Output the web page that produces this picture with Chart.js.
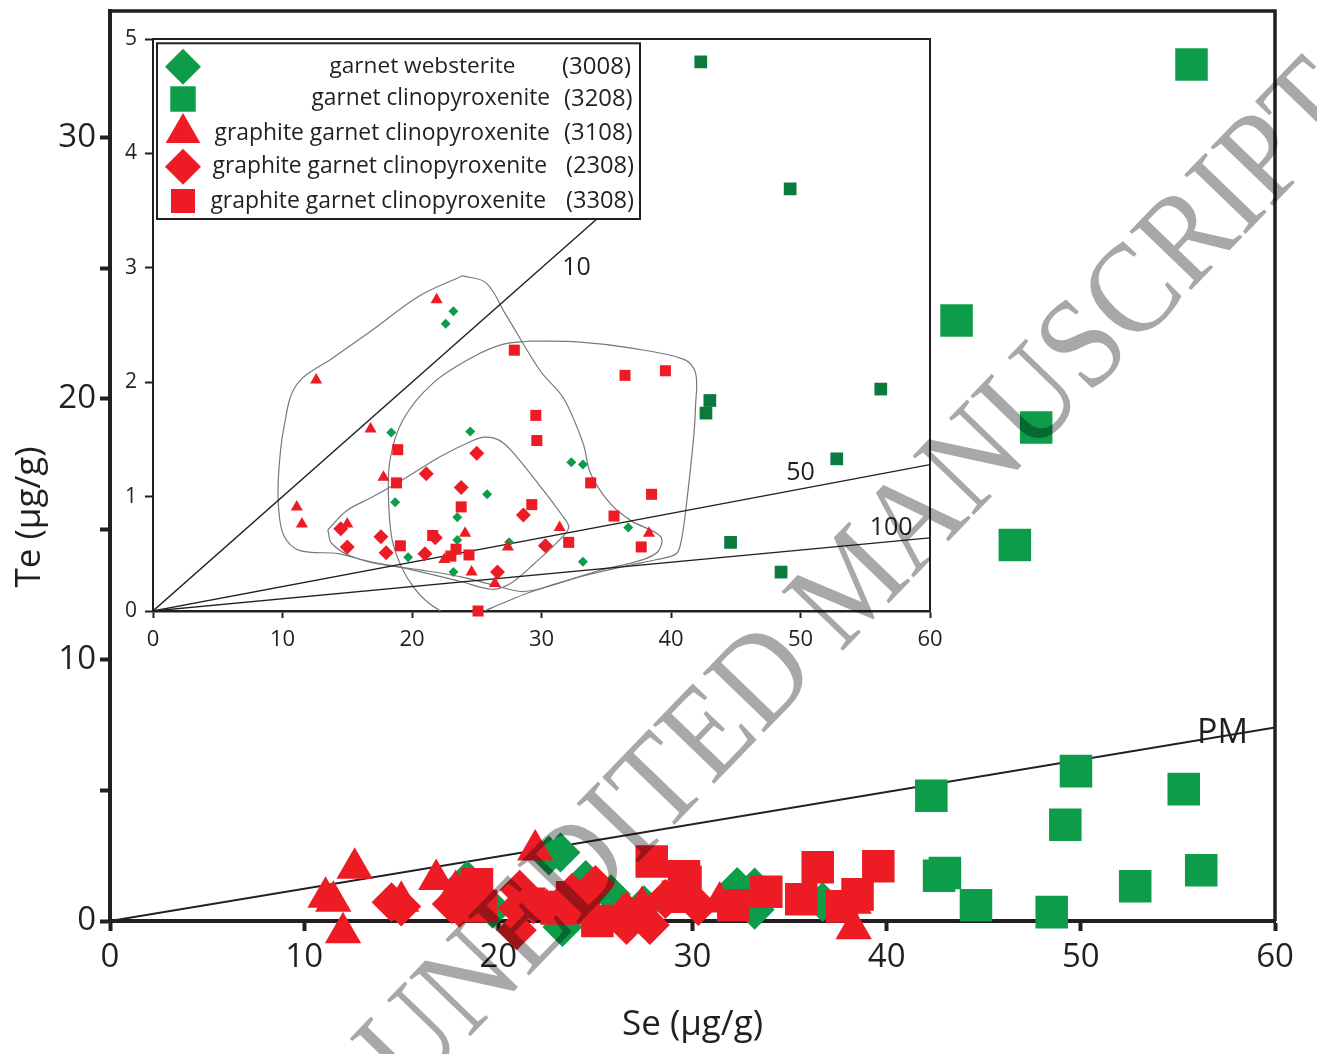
<!DOCTYPE html>
<html lang="en">
<head>
  <meta charset="UTF-8" />
  <title>Te vs Se</title>
  <script src="https://cdn.jsdelivr.net/npm/chart.js@4.4.1/dist/chart.umd.min.js"></script>
  <style>
    html, body { margin: 0; padding: 0; background: #fff; }
    #wrap { position: relative; width: 1317px; height: 1054px; overflow: hidden; }
    #wrap canvas { position: absolute; }
    #mainChart { left: 0; top: -12px; }
    #insetChart { left: 112px; top: 22px; }
    #stamp { left: 0; top: 0; mix-blend-mode: multiply; pointer-events: none; }
  </style>
</head>
<body>
  <div id="wrap">
    <canvas id="mainChart" width="1317" height="1066"></canvas>
    <canvas id="insetChart" width="840" height="640"></canvas>
    <canvas id="stamp" width="1317" height="1054"></canvas>
  </div>

  <script>
    // Se (µg/g), Te (µg/g)
    const websterite3008 = [[23.2,2.62],[22.6,2.51],[18.4,1.56],[24.5,1.57],[32.3,1.30],[33.2,1.28],[25.8,1.02],[18.7,0.95],
      [23.5,0.82],[23.5,0.62],[27.5,0.60],[36.7,0.73],[19.7,0.47],[23.2,0.34],[33.2,0.43],[23.3,-0.23]];
    const clinopyroxenite3208 = [[42.3,4.80],[49.2,3.69],[43.0,1.84],[42.7,1.73],[56.2,1.94],[52.8,1.33],[44.6,0.60],[48.5,0.34],
      [49.75,5.74],[55.3,5.05],[55.7,32.8],[43.6,23.0],[47.7,18.9],[46.6,14.4]];
    const graphite3108 = [[21.9,2.72],[12.6,2.02],[16.8,1.59],[17.8,1.17],[11.1,0.91],[11.5,0.76],[15.0,0.76],[24.1,0.68],
      [22.5,0.45],[24.6,0.34],[26.4,0.24],[27.4,0.56],[31.4,0.73],[38.3,0.68],[12.0,-0.45],[38.3,-0.3]];
    const graphite2308 = [[25.0,1.38],[21.1,1.20],[23.8,1.08],[28.6,0.84],[14.5,0.72],[17.6,0.65],[21.8,0.64],[15.0,0.56],
      [18.0,0.51],[21.0,0.50],[30.3,0.57],[26.6,0.34],[20.95,-0.35],[26.6,-0.15],[27.8,-0.15]];
    const graphite3308 = [[27.9,2.28],[36.45,2.06],[39.57,2.10],[29.56,1.71],[29.64,1.49],[18.9,1.41],[18.8,1.12],[33.8,1.12],
      [38.5,1.02],[23.8,0.91],[29.25,0.93],[35.6,0.83],[21.6,0.66],[19.1,0.57],[23.4,0.54],[23.0,0.48],[24.4,0.49],
      [32.1,0.60],[37.7,0.56],[25.1,0.0]];

    // reference lines (the 10 line stops under the legend)
    const pmLine = [[0,0],[60,7.41]];
    const ratio10 = [[0,0],[34.6,3.46]];
    const ratio50 = [[0,0],[60,1.28]];
    const ratio100 = [[0,0],[60,0.64]];

    // sample field outlines in the inset
    const field3108 = [[23.9,2.93],[25.7,2.87],[27.2,2.6],[29.9,2.1],[31.7,1.86],[33.2,1.47],[33.8,1.2],[35.3,0.94],[36.9,0.79],
      [39.2,0.65],[39.0,0.52],[37.6,0.44],[34.3,0.35],[30.4,0.21],[28.5,0.17],[26.5,0.22],[23.7,0.3],[20.6,0.36],[17.0,0.42],
      [14.4,0.5],[11.3,0.53],[10.1,0.66],[9.7,0.9],[9.7,1.2],[10.1,1.6],[11.1,1.98],[14,2.22],[17,2.46],[20.5,2.75],[23.9,2.93]];
    const field3308 = [[29.1,2.36],[33,2.35],[36.8,2.3],[41.0,2.2],[41.9,2.08],[41.9,1.8],[41.75,1.52],[41.2,0.94],[40.8,0.62],
      [40.4,0.5],[38.9,0.45],[36.8,0.40],[33,0.3],[29,0.16],[26.2,0.03],[24.2,-0.05],[22.2,0.0],[20.1,0.21],[18.6,0.56],
      [18.2,0.94],[18.3,1.32],[19.3,1.67],[21.6,1.99],[24.7,2.22],[27,2.33],[29.1,2.36]];
    const field2308 = [[13.5,0.71],[15.0,0.88],[17.0,1.0],[19.6,1.17],[22.2,1.35],[24.7,1.49],[25.6,1.52],[26.6,1.5],[27.6,1.41],
      [29.9,1.09],[31.5,0.85],[32.1,0.73],[31.2,0.6],[29.5,0.42],[27.6,0.24],[26.2,0.19],[23.7,0.26],[19.6,0.37],[15.5,0.47],
      [13.8,0.59],[13.5,0.71]];

    // ticks and labels
    const mainXTicks = [0,10,20,30,40,50,60];
    const mainXLabels = ['0','10','20','30','40','50','60'];
    const mainYTicks = [0,5,10,15,20,25,30];
    const mainYLabels = ['0','','10','','20','','30'];
    const insetXTicks = [0,10,20,30,40,50,60];
    const insetXLabels = ['0','10','20','30','40','50','60'];
    const insetYTicks = [0,1,2,3,4,5];
    const insetYLabels = ['0','1','2','3','4','5'];

    // line labels: text, Se, Te
    const pmLabel = ['PM', 57.3, 7.18];
    const ratioLabels = [['10', 32.7, 3.0], ['50', 50.0, 1.21], ['100', 57.0, 0.73]];

    const RED = '#ed1c24';
    const GREEN = '#0d9d4a';
    const GREEN_DARK = '#0b7b3d';
    const INK = '#231f20';
    const FONT = '"Open Sans", "DejaVu Sans", sans-serif';

    Chart.defaults.font.family = FONT;
    Chart.defaults.color = INK;

    const xy = a => a.map(([x, y]) => ({x, y}));

    function points(label, data, style, color, r, clip) {
      return {
        label, data: xy(data), pointStyle: style, pointRadius: r, pointHoverRadius: r,
        pointBackgroundColor: color, pointBorderColor: color, pointBorderWidth: 0,
        showLine: false, clip
      };
    }
    function line(data, color, width, tension) {
      return {
        data: xy(data), showLine: true, borderColor: color, borderWidth: width,
        pointRadius: 0, tension: tension || 0, fill: false
      };
    }
    function fixedTicks(list) {
      return s => { s.ticks = list.map(v => ({value: v})); };
    }
    // fixed axis box sizes, no extra room for edge labels
    const fitX = h => s => { s.height = h; s.paddingLeft = 0; s.paddingRight = 0; s.paddingTop = 0; s.paddingBottom = 0; };
    const fitY = w => s => { s.width = w; s.paddingTop = 0; s.paddingBottom = 0; s.paddingLeft = 0; s.paddingRight = 0; };

    // ---------- main chart ----------
    const mainFrame = {
      id: 'mainFrame',
      afterDatasetsDraw(chart) {
        const {ctx, chartArea: a, scales} = chart;
        ctx.save();
        ctx.strokeStyle = INK;
        ctx.lineWidth = 3.5;
        ctx.beginPath();
        ctx.moveTo(a.left - 2, a.top);
        ctx.lineTo(a.right, a.top);
        ctx.lineTo(a.right, a.bottom);
        ctx.stroke();

        ctx.fillStyle = INK;
        ctx.font = '34px ' + FONT;
        ctx.textAlign = 'center';
        ctx.textBaseline = 'middle';
        ctx.fillText(pmLabel[0], scales.x.getPixelForValue(pmLabel[1]), scales.y.getPixelForValue(pmLabel[2]));

        // the canvas sits 12px above the page top
        ctx.translate(30, 529);
        ctx.rotate(-Math.PI / 2);
        ctx.font = '35px ' + FONT;
        ctx.fillText('Te (μg/g)', 0, 0);
        ctx.restore();
      }
    };

    new Chart(document.getElementById('mainChart'), {
      type: 'scatter',
      data: {
        datasets: [
          points('3108', graphite3108, 'triangle', RED, 21, false),
          points('2308', graphite2308, 'rectRot', RED, 20, false),
          points('3308', graphite3308, 'rect', RED, 23, false),
          points('3008', websterite3008, 'rectRot', GREEN, 20, false),
          points('3208', clinopyroxenite3208, 'rect', GREEN, 23, false),
          line(pmLine, INK, 2)
        ]
      },
      options: {
        responsive: false,
        animation: false,
        events: [],
        layout: { padding: { left: 0, top: 22, right: 42, bottom: 0 } },
        plugins: { legend: { display: false }, tooltip: { enabled: false } },
        scales: {
          x: {
            type: 'linear', min: 0, max: 60,
            afterBuildTicks: fixedTicks(mainXTicks),
            afterFit: fitX(133),
            ticks: { callback: (v, i) => mainXLabels[i], color: INK, font: { size: 33 }, padding: 7, maxRotation: 0, autoSkip: false },
            grid: { drawOnChartArea: false, drawTicks: true, tickLength: 10, tickWidth: 4, tickColor: INK },
            border: { display: true, color: INK, width: 4 },
            title: { display: true, text: 'Se (μg/g)', color: INK, font: { size: 35 }, padding: { top: 0, bottom: 8 } }
          },
          y: {
            type: 'linear', min: 0, max: 34.85,
            afterBuildTicks: fixedTicks(mainYTicks),
            afterFit: fitY(110),
            ticks: { callback: (v, i) => mainYLabels[i], color: INK, font: { size: 33 }, padding: 4, autoSkip: false },
            grid: { drawOnChartArea: false, drawTicks: true, tickLength: 10, tickWidth: 4, tickColor: INK },
            border: { display: true, color: INK, width: 4 }
          }
        }
      },
      plugins: [mainFrame]
    });

    // ---------- inset chart ----------
    const legendRows = [
      { style: 'rectRot', color: GREEN, r: 18, label: 'garnet websterite', code: '(3008)', y: 44.7, lx: [217.5, 403.6], cx: [450, 519] },
      { style: 'rect', color: GREEN, r: 18, label: 'garnet clinopyroxenite', code: '(3208)', y: 77, lx: [199.4, 438], cx: [452, 520.6] },
      { style: 'triangle', color: RED, r: 20, label: 'graphite garnet clinopyroxenite', code: '(3108)', y: 111, lx: [102.6, 438], cx: [452, 520.6] },
      { style: 'rectRot', color: RED, r: 18, label: 'graphite garnet clinopyroxenite', code: '(2308)', y: 144.7, lx: [100.5, 435], cx: [454, 522] },
      { style: 'rect', color: RED, r: 17, label: 'graphite garnet clinopyroxenite', code: '(3308)', y: 179, lx: [98.4, 434], cx: [454, 522] }
    ];

    function fitText(ctx, text, x0, x1, y, base) {
      ctx.font = base + 'px ' + FONT;
      const w = ctx.measureText(text).width;
      const size = base * (x1 - x0) / w;
      ctx.font = size.toFixed(2) + 'px ' + FONT;
      ctx.fillText(text, x0, y);
    }

    const insetFrame = {
      id: 'insetFrame',
      afterDatasetsDraw(chart) {
        const {ctx, chartArea: a, scales} = chart;
        ctx.save();
        ctx.strokeStyle = INK;
        ctx.lineWidth = 2;
        ctx.beginPath();
        ctx.moveTo(a.left, a.top);
        ctx.lineTo(a.right, a.top);
        ctx.lineTo(a.right, a.bottom);
        ctx.stroke();

        ctx.fillStyle = INK;
        ctx.font = '25px ' + FONT;
        ctx.textAlign = 'center';
        ctx.textBaseline = 'middle';
        ratioLabels.forEach(([t, x, y]) => {
          ctx.fillText(t, scales.x.getPixelForValue(x), scales.y.getPixelForValue(y));
        });
        ctx.restore();
      },
      afterDraw(chart) {
        const {ctx} = chart;
        ctx.save();
        ctx.fillStyle = '#fff';
        ctx.fillRect(45, 21.3, 483, 175.7);
        ctx.strokeStyle = INK;
        ctx.lineWidth = 2;
        ctx.strokeRect(45, 21.3, 483, 175.7);
        legendRows.forEach(row => {
          ctx.fillStyle = row.color;
          Chart.helpers.drawPoint(ctx, { pointStyle: row.style, radius: row.r, rotation: 0, borderWidth: 0 }, 71, row.y);
          ctx.fillStyle = INK;
          ctx.textAlign = 'left';
          ctx.textBaseline = 'middle';
          fitText(ctx, row.label, row.lx[0], row.lx[1], row.y, 22);
          fitText(ctx, row.code, row.cx[0], row.cx[1], row.y, 22);
        });
        ctx.restore();
      }
    };

    const insetClip = { left: 6, top: 0, right: 0, bottom: 8 };

    new Chart(document.getElementById('insetChart'), {
      type: 'scatter',
      data: {
        datasets: [
          points('3108', graphite3108, 'triangle', RED, 7, insetClip),
          points('2308', graphite2308, 'rectRot', RED, 7.5, insetClip),
          points('3308', graphite3308, 'rect', RED, 7.8, insetClip),
          points('3008', websterite3008, 'rectRot', GREEN, 5, insetClip),
          points('3208', clinopyroxenite3208, 'rect', GREEN_DARK, 9, insetClip),
          line(ratio10, INK, 1.4),
          line(ratio50, INK, 1.3),
          line(ratio100, INK, 1.3),
          line(field3108, '#77787b', 1.2, 0.35),
          line(field3308, '#77787b', 1.2, 0.35),
          line(field2308, '#77787b', 1.2, 0.35)
        ]
      },
      options: {
        responsive: false,
        animation: false,
        events: [],
        layout: { padding: { left: 0, top: 17, right: 22, bottom: 0 } },
        plugins: { legend: { display: false }, tooltip: { enabled: false } },
        scales: {
          x: {
            type: 'linear', min: 0, max: 60,
            afterBuildTicks: fixedTicks(insetXTicks),
            afterFit: fitX(51),
            ticks: { callback: (v, i) => insetXLabels[i], color: INK, font: { size: 22 }, padding: 9, maxRotation: 0, autoSkip: false },
            grid: { drawOnChartArea: false, drawTicks: true, tickLength: 7, tickWidth: 2, tickColor: INK },
            border: { display: true, color: INK, width: 2.5 }
          },
          y: {
            type: 'linear', min: 0, max: 5,
            afterBuildTicks: fixedTicks(insetYTicks),
            afterFit: fitY(41),
            ticks: { callback: (v, i) => insetYLabels[i], color: INK, font: { size: 21 }, padding: 8, autoSkip: false },
            grid: { drawOnChartArea: false, drawTicks: true, tickLength: 8, tickWidth: 2, tickColor: INK },
            border: { display: true, color: INK, width: 2 }
          }
        }
      },
      plugins: [insetFrame]
    });

    // ---------- watermark ----------
    const stampText = ['UNEDITED ', 'MANUSCRIPT'];
    const sctx = document.getElementById('stamp').getContext('2d');
    sctx.save();
    sctx.font = '130px "Liberation Serif", "DejaVu Serif", serif';
    const full = sctx.measureText(stampText.join('')).width;
    const mOffset = sctx.measureText(stampText[0]).width + sctx.measureText('M').width / 2 - full / 2;
    sctx.translate(852, 592);
    sctx.rotate(-46 * Math.PI / 180);
    sctx.scale(0.9, 1);
    sctx.fillStyle = '#a8a8a8';
    sctx.textAlign = 'center';
    sctx.textBaseline = 'middle';
    sctx.fillText(stampText.join(''), -mOffset, 0);
    sctx.restore();
  </script>
</body>
</html>
